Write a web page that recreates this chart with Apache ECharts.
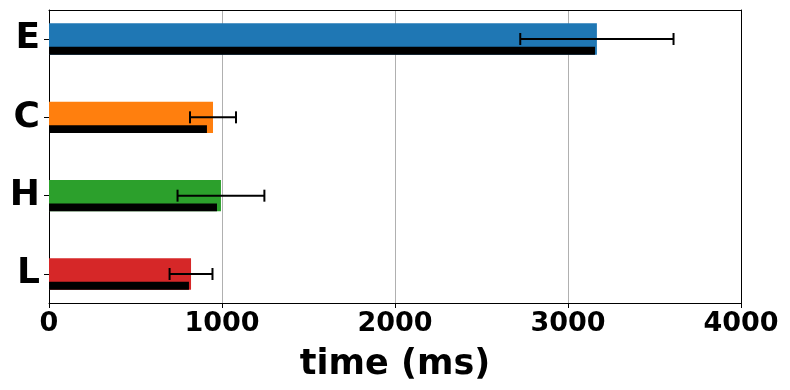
<!DOCTYPE html>
<html>
<head>
<meta charset="utf-8">
<script src="https://cdn.jsdelivr.net/npm/echarts@6/dist/echarts.min.js"></script>
<style>html,body{margin:0;padding:0;background:#fff}#c{width:790px;height:390px}</style>
</head>
<body>
<div id="c"></div>
<script>
// Data (top to bottom)
const categories = ['E', 'C', 'H', 'L'];
const meanValues = [3167, 948, 994, 821];
const blackValues = [3156, 913, 971, 809];
const errValues = [443, 133, 251, 124];
const barColors = ['#1f77b4', '#ff7f0e', '#2ca02c', '#d62728'];
const xTicks = [0, 1000, 2000, 3000, 4000];

const n = categories.length;
const posOf = i => n - 1 - i;
const labelOfPos = p => categories[n - 1 - Math.round(p)];

const chart = echarts.init(document.getElementById('c'), null, {renderer: 'canvas'});
const FONT = 'DejaVu Sans';

const colorData = categories.map((c, i) => [meanValues[i], posOf(i), i]);
const blackData = categories.map((c, i) => [blackValues[i], posOf(i), i]);
const errData = categories.map((c, i) => [meanValues[i], posOf(i), errValues[i]]);

const option = {
  animation: false,
  backgroundColor: '#fff',
  grid: {left: 49, right: 49, top: 10, bottom: 87, containLabel: false},
  xAxis: [{
    type: 'value', position: 'bottom',
    min: xTicks[0], max: xTicks[xTicks.length - 1], interval: 1000,
    axisLine: {show: true, onZero: false, lineStyle: {color: '#000', width: 1}},
    axisTick: {show: true, length: 5, lineStyle: {color: '#000', width: 1}},
    axisLabel: {fontFamily: FONT, fontWeight: 'bold', fontSize: 27, color: '#000', margin: 7,
      formatter: v => String(v)},
    splitLine: {show: true, lineStyle: {color: '#b0b0b0', width: 1}},
    name: 'time (ms)', nameLocation: 'middle', nameGap: 44,
    nameTextStyle: {fontFamily: FONT, fontWeight: 'bold', fontSize: 35, color: '#000'}
  }, {
    type: 'value', position: 'top',
    min: xTicks[0], max: xTicks[xTicks.length - 1], interval: 1000,
    axisLine: {show: true, onZero: false, lineStyle: {color: '#000', width: 1}},
    axisTick: {show: false}, axisLabel: {show: false}, splitLine: {show: false}
  }],
  yAxis: [{
    type: 'value', position: 'left',
    min: -0.37, max: n - 1 + 0.37,
    axisLine: {show: true, onZero: false, lineStyle: {color: '#000', width: 1}},
    axisTick: {show: true, length: 5, customValues: [0, 1, 2, 3], lineStyle: {color: '#000', width: 1}},
    axisLabel: {customValues: [0, 1, 2, 3], formatter: v => labelOfPos(v),
      fontFamily: FONT, fontWeight: 'bold', fontSize: 36, color: '#000', margin: 9},
    splitLine: {show: false}
  }, {
    type: 'value', position: 'right',
    min: -0.37, max: n - 1 + 0.37,
    axisLine: {show: true, onZero: false, lineStyle: {color: '#000', width: 1}},
    axisTick: {show: false}, axisLabel: {show: false}, splitLine: {show: false}
  }],
  series: [{
    type: 'custom', xAxisIndex: 0, yAxisIndex: 0, z: 2,
    data: colorData,
    renderItem: (params, api) => {
      const v = api.value(0), y = api.value(1), ci = api.value(2);
      const p0 = api.coord([0, y + 0.2]);
      const p1 = api.coord([v, y - 0.2]);
      return {type: 'rect', shape: {x: p0[0], y: p0[1], width: p1[0] - p0[0], height: p1[1] - p0[1]},
        style: {fill: barColors[ci]}};
    }
  }, {
    type: 'custom', xAxisIndex: 0, yAxisIndex: 0, z: 3,
    data: blackData,
    renderItem: (params, api) => {
      const v = api.value(0), y = api.value(1);
      const p0 = api.coord([0, y - 0.1]);
      const p1 = api.coord([v, y - 0.2]);
      return {type: 'rect', shape: {x: p0[0], y: p0[1], width: p1[0] - p0[0], height: p1[1] - p0[1]},
        style: {fill: '#000'}};
    }
  }, {
    type: 'custom', xAxisIndex: 0, yAxisIndex: 0, z: 4,
    data: errData,
    renderItem: (params, api) => {
      const v = api.value(0), y = api.value(1), e = api.value(2);
      const a = api.coord([v - e, y]);
      const b = api.coord([v + e, y]);
      const cap = 6;
      const st = {stroke: '#000', lineWidth: 2};
      return {type: 'group', children: [
        {type: 'line', shape: {x1: a[0], y1: a[1], x2: b[0], y2: b[1]}, style: st},
        {type: 'line', shape: {x1: a[0], y1: a[1] - cap, x2: a[0], y2: a[1] + cap}, style: st},
        {type: 'line', shape: {x1: b[0], y1: b[1] - cap, x2: b[0], y2: b[1] + cap}, style: st}
      ]};
    }
  }]
};
chart.setOption(option);
</script>
</body>
</html>
